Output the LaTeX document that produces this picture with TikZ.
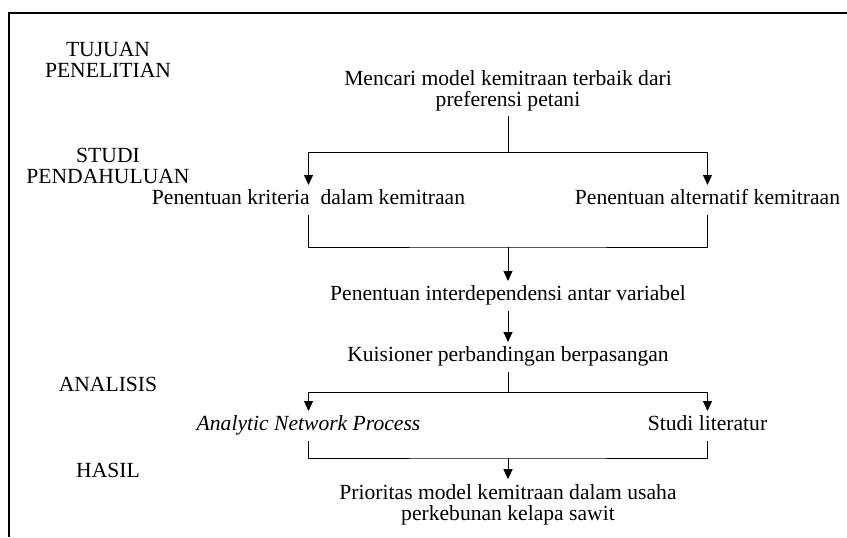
\documentclass[tikz,border=0pt]{standalone}
\usepackage{fontspec}
\setmainfont{Liberation Serif}
\usetikzlibrary{arrows.meta, positioning}

\begin{document}
\begin{tikzpicture}[x=0.5pt, y=-0.5pt,
    every node/.style={font=\fontsize{10.8}{10.5}\selectfont, inner sep=2.5pt, align=center},
    oneline/.style={text height=0.7em, text depth=0.25em},
    arr/.style={-{Triangle[width=4.5pt,length=5pt]}}, line width=0.5pt]
    \useasboundingbox (0,0) rectangle (847,537);
    % frame
    \draw[line width=0.8pt] (9,537) -- (9,13) -- (847,13);
    % stages
    \node (tujuan) at (108,59.5) {TUJUAN\\PENELITIAN};
    \node (studi) at (108,165.5) {STUDI\\PENDAHULUAN};
    \node (analisis) at (108,384) {ANALISIS};
    \node (hasil) at (108,470) {HASIL};
    % flow
    \node (goal) at (508,90.5) {Mencari model kemitraan terbaik dari\\preferensi petani};
    \node[oneline] (kriteria) at (308.5,200) {Penentuan kriteria\ \ dalam kemitraan};
    \node[oneline] (alternatif) at (707.5,200) {Penentuan alternatif kemitraan};
    \node[oneline] (interdep) at (508,296) {Penentuan interdependensi antar variabel};
    \node[oneline] (kuisioner) at (508,357) {Kuisioner perbandingan berpasangan};
    \node[oneline] (anp) at (308.5,426) {\textit{Analytic Network Process}};
    \node[oneline] (literatur) at (707.5,426) {Studi literatur};
    \node (prioritas) at (508,505) {Prioritas model kemitraan dalam usaha\\perkebunan kelapa sawit};
    \coordinate (b1) at (508,152);
    \coordinate (b2) at (508,247);
    \coordinate (b3) at (508,392);
    \coordinate (b4) at (508,458);
    \draw (goal.south) -- (b1);
    \draw[arr] (b1) -| (kriteria.north);
    \draw[arr] (b1) -| (alternatif.north);
    \draw (kriteria.south) |- (b2) -| (alternatif.south);
    \draw[arr] (b2) -- (interdep.north);
    \draw[arr] (interdep) -- (kuisioner);
    \draw (kuisioner.south) -- (b3);
    \draw[arr] (b3) -| (anp.north);
    \draw[arr] (b3) -| (literatur.north);
    \draw (anp.south) |- (b4) -| (literatur.south);
    \draw[arr] (b4) -- (prioritas.north);
\end{tikzpicture}
\end{document}
